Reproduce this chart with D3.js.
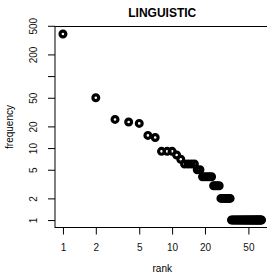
<!DOCTYPE html>
<html>
<head>
<meta charset="utf-8">
<script src="https://cdn.jsdelivr.net/npm/d3@7"></script>
<style>
  body { margin: 0; background: #fff; }
  svg { display: block; font-family: "Liberation Sans", Arial, Helvetica, sans-serif; }
</style>
</head>
<body>
<svg id="chart" width="267" height="275"></svg>
<script>
// word frequencies, sorted; rank = position in the list (1-based)
var frequencies = [
    385, 50, 25, 23, 22, 15, 14, 9, 9, 9,
    8, 7, 6, 6, 6, 6, 5, 5, 4, 4,
    4, 4, 4, 3, 3, 3, 3, 2, 2, 2,
    2, 2, 2, 2, 1, 1, 1, 1, 1, 1,
    1, 1, 1, 1, 1, 1, 1, 1, 1, 1,
    1, 1, 1, 1, 1, 1, 1, 1, 1, 1,
    1, 1, 1, 1, 1, 1
];

var xTicks = [ 1, 2, 5, 10, 20, 50 ];
var yTicks = [ 1, 2, 5, 10, 20, 50, 100, 200, 500 ];
var yTickLabels = [ "1", "2", "5", "10", "20", "50", "", "200", "500" ];

var title = "LINGUISTIC";
var xTitle = "rank";
var yTitle = "frequency";

var points = frequencies.map( function ( f, i ) {
    return { rank: i + 1, freq: f };
} );

// plot region (right side runs past the window edge)
var plot = { left: 55, right: 269.5, top: 26.5, bottom: 227.5 };

// log domain padded 4% each side, like R does
function padLog( ext ) {
    var lo = Math.log10( ext[ 0 ] ), hi = Math.log10( ext[ 1 ] );
    var pad = ( hi - lo ) * 0.04;
    return [ Math.pow( 10, lo - pad ), Math.pow( 10, hi + pad ) ];
}

var x = d3.scaleLog()
    .domain( padLog( d3.extent( points, d => d.rank ) ) )
    .range( [ plot.left, plot.right ] );

var y = d3.scaleLog()
    .domain( padLog( d3.extent( points, d => d.freq ) ) )
    .range( [ plot.bottom, plot.top ] );

var svg = d3.select( "#chart" );

// x axis
var xAxis = svg.append( "g" )
    .attr( "transform", "translate(0," + plot.bottom + ")" )
    .call( d3.axisBottom( x ).tickValues( xTicks ).tickFormat( d3.format( "d" ) ).tickSize( 7 ) );
xAxis.select( ".domain" ).remove();
xAxis.selectAll( "text" )
    .attr( "y", 16 )
    .attr( "font-size", 10 )
    .attr( "fill", "#111" );

// y axis, labels rotated like R's default
var yAxis = svg.append( "g" )
    .attr( "transform", "translate(" + plot.left + ",0)" )
    .call( d3.axisLeft( y ).tickValues( yTicks ).tickFormat( ( d, i ) => yTickLabels[ i ] ).tickSize( 7 ) );
yAxis.select( ".domain" ).remove();
yAxis.selectAll( "text" )
    .attr( "transform", "rotate(-90)" )
    .attr( "x", 0 )
    .attr( "y", -18 )
    .attr( "dy", null )
    .attr( "text-anchor", "middle" )
    .attr( "font-size", 10 )
    .attr( "fill", "#111" );

svg.selectAll( ".tick line" ).attr( "stroke", "#000" );
svg.selectAll( "g" ).attr( "font-family", null );

// box
svg.append( "rect" )
    .attr( "x", plot.left )
    .attr( "y", plot.top )
    .attr( "width", plot.right - plot.left )
    .attr( "height", plot.bottom - plot.top )
    .attr( "fill", "none" )
    .attr( "stroke", "#000" )
    .attr( "stroke-width", 1 );

// points: thick open circles
svg.append( "g" )
    .selectAll( "circle" )
    .data( points )
    .enter()
    .append( "circle" )
    .attr( "cx", d => x( d.rank ) )
    .attr( "cy", d => y( d.freq ) )
    .attr( "r", 2.9 )
    .attr( "fill", "none" )
    .attr( "stroke", "#000" )
    .attr( "stroke-width", 3.2 );

// titles
svg.append( "text" )
    .attr( "x", ( plot.left + plot.right ) / 2 )
    .attr( "y", 17 )
    .attr( "text-anchor", "middle" )
    .attr( "font-size", 12 )
    .attr( "font-weight", "bold" )
    .text( title );

svg.append( "text" )
    .attr( "x", ( plot.left + plot.right ) / 2 )
    .attr( "y", 272 )
    .attr( "text-anchor", "middle" )
    .attr( "font-size", 10 )
    .text( xTitle );

svg.append( "text" )
    .attr( "transform", "translate(13," + ( ( plot.top + plot.bottom ) / 2 ) + ") rotate(-90)" )
    .attr( "text-anchor", "middle" )
    .attr( "font-size", 10 )
    .text( yTitle );
</script>
</body>
</html>
